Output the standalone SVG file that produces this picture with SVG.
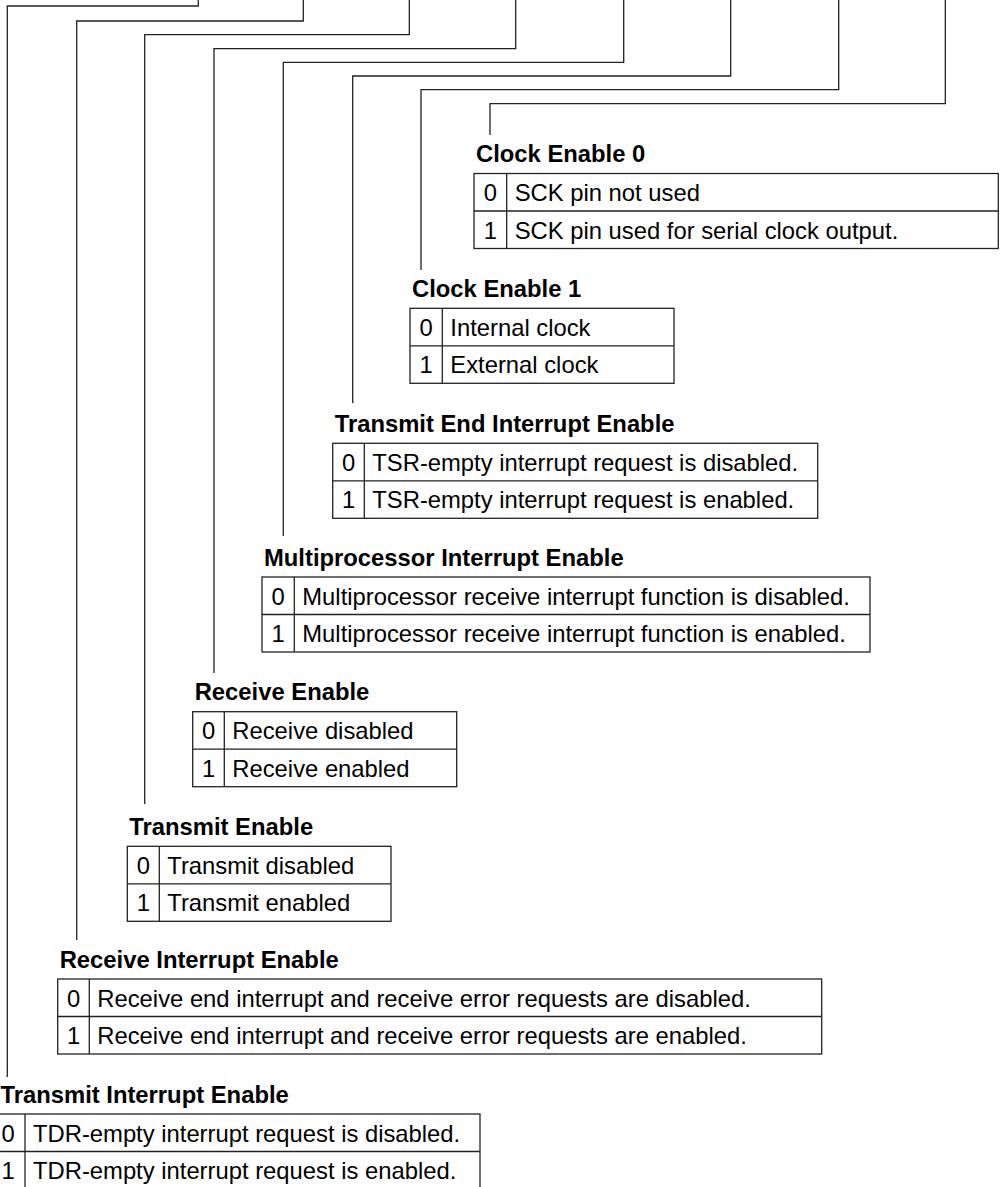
<svg xmlns="http://www.w3.org/2000/svg" width="1000" height="1187" viewBox="0 0 1000 1187">
<style>
  .ln { fill: none; stroke: #222; stroke-width: 1.3; }
  .tb { fill: none; stroke: #222; stroke-width: 1.3; }
  .tt { font-family: "Liberation Sans", Arial, sans-serif; font-size: 23.8px; font-weight: bold; fill: #000; }
  .tx { font-family: "Liberation Sans", Arial, sans-serif; font-size: 23.8px; fill: #000; }
  .dg { font-family: "Liberation Sans", Arial, sans-serif; font-size: 23.8px; fill: #000; text-anchor: middle; }
</style>
<rect x="0" y="0" width="1000" height="1187" fill="#fff"/>
<g id="connectors">
  <path class="ln" d="M198.3,0 V6 H7.3 V1077"/>
  <path class="ln" d="M303.3,0 V21 H76.7 V940"/>
  <path class="ln" d="M409.3,0 V34.7 H144.7 V804"/>
  <path class="ln" d="M515.7,0 V48.7 H214 V673"/>
  <path class="ln" d="M623.7,0 V62.3 H283.3 V536"/>
  <path class="ln" d="M730.7,0 V76 H352.7 V403"/>
  <path class="ln" d="M838.7,0 V89.7 H421 V270"/>
  <path class="ln" d="M945.3,0 V103.7 H490 V135"/>
</g>
<g id="cke0">
  <text class="tt" x="476" y="162">Clock Enable 0</text>
  <rect class="tb" x="474" y="173.5" width="524.3" height="75"/>
  <line class="tb" x1="474" y1="211" x2="998.3" y2="211"/>
  <line class="tb" x1="506.7" y1="173.5" x2="506.7" y2="248.5"/>
  <text class="dg" x="490.3" y="201">0</text>
  <text class="dg" x="490.3" y="238.5">1</text>
  <text class="tx" x="514.7" y="201">SCK pin not used</text>
  <text class="tx" x="514.7" y="238.5">SCK pin used for serial clock output.</text>
</g>
<g id="cke1">
  <text class="tt" x="412" y="296.8">Clock Enable 1</text>
  <rect class="tb" x="410" y="308.3" width="264" height="75"/>
  <line class="tb" x1="410" y1="345.8" x2="674" y2="345.8"/>
  <line class="tb" x1="442.3" y1="308.3" x2="442.3" y2="383.3"/>
  <text class="dg" x="426.2" y="335.8">0</text>
  <text class="dg" x="426.2" y="373.3">1</text>
  <text class="tx" x="450.3" y="335.8">Internal clock</text>
  <text class="tx" x="450.3" y="373.3">External clock</text>
</g>
<g id="teie">
  <text class="tt" x="334.7" y="431.8">Transmit End Interrupt Enable</text>
  <rect class="tb" x="332.7" y="443.3" width="485" height="75"/>
  <line class="tb" x1="332.7" y1="480.8" x2="817.7" y2="480.8"/>
  <line class="tb" x1="364.3" y1="443.3" x2="364.3" y2="518.3"/>
  <text class="dg" x="348.5" y="470.8">0</text>
  <text class="dg" x="348.5" y="508.3">1</text>
  <text class="tx" x="372.3" y="470.8">TSR-empty interrupt request is disabled.</text>
  <text class="tx" x="372.3" y="508.3">TSR-empty interrupt request is enabled.</text>
</g>
<g id="mpie">
  <text class="tt" x="264" y="565.5">Multiprocessor Interrupt Enable</text>
  <rect class="tb" x="262" y="577" width="608" height="75"/>
  <line class="tb" x1="262" y1="614.5" x2="870" y2="614.5"/>
  <line class="tb" x1="294.3" y1="577" x2="294.3" y2="652"/>
  <text class="dg" x="278.2" y="604.5">0</text>
  <text class="dg" x="278.2" y="642">1</text>
  <text class="tx" x="302.3" y="604.5">Multiprocessor receive interrupt function is disabled.</text>
  <text class="tx" x="302.3" y="642">Multiprocessor receive interrupt function is enabled.</text>
</g>
<g id="re">
  <text class="tt" x="194.7" y="700.2">Receive Enable</text>
  <rect class="tb" x="192.7" y="711.7" width="264" height="75"/>
  <line class="tb" x1="192.7" y1="749.2" x2="456.7" y2="749.2"/>
  <line class="tb" x1="224.3" y1="711.7" x2="224.3" y2="786.7"/>
  <text class="dg" x="208.5" y="739.2">0</text>
  <text class="dg" x="208.5" y="776.7">1</text>
  <text class="tx" x="232.3" y="739.2">Receive disabled</text>
  <text class="tx" x="232.3" y="776.7">Receive enabled</text>
</g>
<g id="te">
  <text class="tt" x="129.3" y="834.8">Transmit Enable</text>
  <rect class="tb" x="127.3" y="846.3" width="263.7" height="75"/>
  <line class="tb" x1="127.3" y1="883.8" x2="391" y2="883.8"/>
  <line class="tb" x1="159.3" y1="846.3" x2="159.3" y2="921.3"/>
  <text class="dg" x="143.3" y="873.8">0</text>
  <text class="dg" x="143.3" y="911.3">1</text>
  <text class="tx" x="167.3" y="873.8">Transmit disabled</text>
  <text class="tx" x="167.3" y="911.3">Transmit enabled</text>
</g>
<g id="rie">
  <text class="tt" x="59.7" y="967.5">Receive Interrupt Enable</text>
  <rect class="tb" x="57.7" y="979" width="764" height="75"/>
  <line class="tb" x1="57.7" y1="1016.5" x2="821.7" y2="1016.5"/>
  <line class="tb" x1="89.3" y1="979" x2="89.3" y2="1054"/>
  <text class="dg" x="73.5" y="1006.5">0</text>
  <text class="dg" x="73.5" y="1044">1</text>
  <text class="tx" x="97.3" y="1006.5">Receive end interrupt and receive error requests are disabled.</text>
  <text class="tx" x="97.3" y="1044">Receive end interrupt and receive error requests are enabled.</text>
</g>
<g id="tie">
  <text class="tt" x="0.5" y="1102.5">Transmit Interrupt Enable</text>
  <rect class="tb" x="-7" y="1114" width="487" height="75"/>
  <line class="tb" x1="-7" y1="1151.5" x2="480" y2="1151.5"/>
  <line class="tb" x1="25" y1="1114" x2="25" y2="1189"/>
  <text class="dg" x="8" y="1141.5">0</text>
  <text class="dg" x="8" y="1179">1</text>
  <text class="tx" x="33" y="1141.5">TDR-empty interrupt request is disabled.</text>
  <text class="tx" x="33" y="1179">TDR-empty interrupt request is enabled.</text>
</g>
</svg>
